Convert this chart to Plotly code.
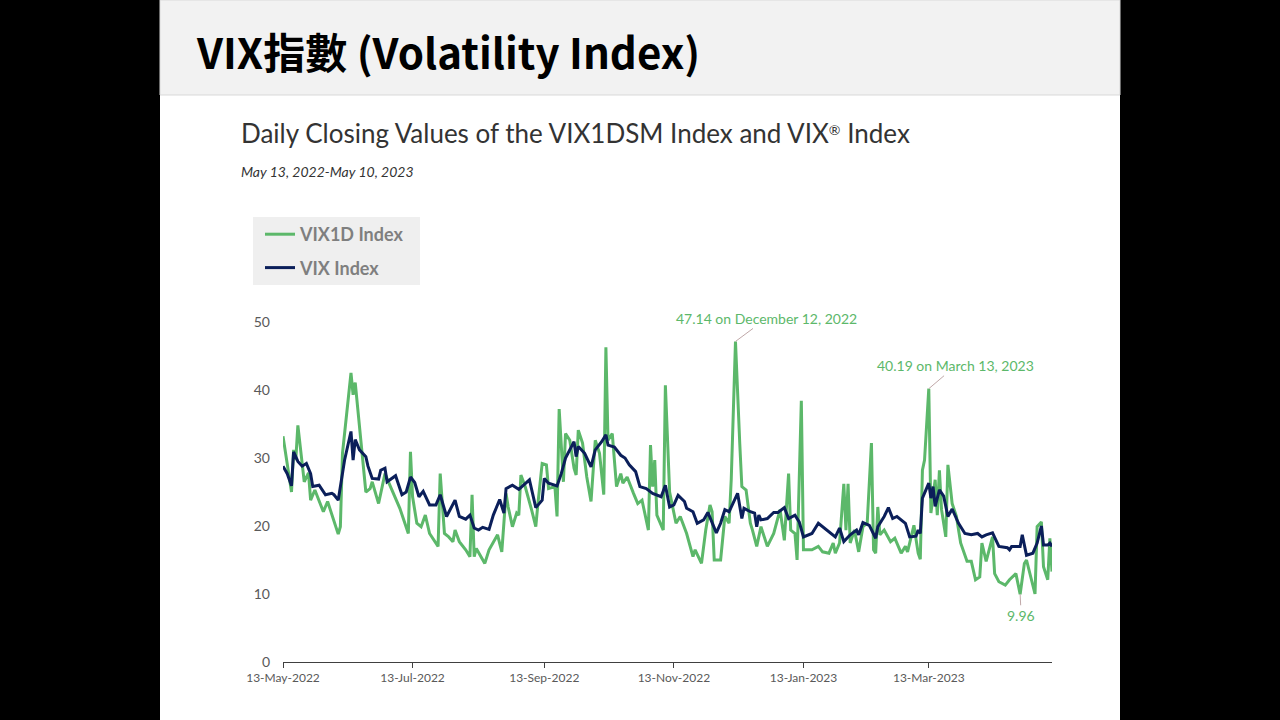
import plotly.graph_objects as go

# ---------------- data ----------------
vix1d_dates = [
    "2022-05-13", "2022-05-17", "2022-05-18", "2022-05-19", "2022-05-20", "2022-05-23", "2022-05-25", "2022-05-26", "2022-05-28",
    "2022-06-01", "2022-06-03", "2022-06-08", "2022-06-09", "2022-06-10", "2022-06-14", "2022-06-15", "2022-06-16", "2022-06-18",
    "2022-06-21", "2022-06-23", "2022-06-24", "2022-06-27", "2022-06-30",
    "2022-07-03", "2022-07-07", "2022-07-11", "2022-07-12", "2022-07-13", "2022-07-15", "2022-07-17", "2022-07-19", "2022-07-21",
    "2022-07-25", "2022-07-26", "2022-07-28", "2022-07-30",
    "2022-08-01", "2022-08-02", "2022-08-04", "2022-08-07", "2022-08-09", "2022-08-10", "2022-08-11", "2022-08-12", "2022-08-16",
    "2022-08-18", "2022-08-22", "2022-08-24", "2022-08-26", "2022-08-27", "2022-08-29", "2022-08-31",
    "2022-09-01", "2022-09-02", "2022-09-04", "2022-09-07", "2022-09-09", "2022-09-10", "2022-09-12", "2022-09-14", "2022-09-15",
    "2022-09-18", "2022-09-19", "2022-09-20", "2022-09-22", "2022-09-23", "2022-09-25", "2022-09-27", "2022-09-28", "2022-09-29",
    "2022-10-01", "2022-10-03", "2022-10-05", "2022-10-07", "2022-10-09", "2022-10-11", "2022-10-12", "2022-10-13", "2022-10-15",
    "2022-10-17", "2022-10-19", "2022-10-20", "2022-10-22", "2022-10-25", "2022-10-27", "2022-10-29",
    "2022-11-01", "2022-11-02", "2022-11-03", "2022-11-04", "2022-11-05", "2022-11-08", "2022-11-09", "2022-11-11", "2022-11-12",
    "2022-11-14", "2022-11-16", "2022-11-19", "2022-11-22", "2022-11-23", "2022-11-26", "2022-11-28", "2022-11-30",
    "2022-12-01", "2022-12-02", "2022-12-05", "2022-12-07", "2022-12-09", "2022-12-10", "2022-12-12", "2022-12-14", "2022-12-15",
    "2022-12-17", "2022-12-19", "2022-12-20", "2022-12-22", "2022-12-24", "2022-12-27", "2022-12-30",
    "2023-01-02", "2023-01-04", "2023-01-06", "2023-01-07", "2023-01-09", "2023-01-10", "2023-01-12", "2023-01-13", "2023-01-17",
    "2023-01-20", "2023-01-22", "2023-01-25", "2023-01-27", "2023-01-28", "2023-01-30",
    "2023-02-01", "2023-02-02", "2023-02-03", "2023-02-04", "2023-02-06", "2023-02-08", "2023-02-10", "2023-02-12", "2023-02-14",
    "2023-02-15", "2023-02-16", "2023-02-17", "2023-02-18", "2023-02-20", "2023-02-23", "2023-02-25", "2023-02-28",
    "2023-03-02", "2023-03-03", "2023-03-06", "2023-03-08", "2023-03-09", "2023-03-10", "2023-03-11", "2023-03-13", "2023-03-14",
    "2023-03-16", "2023-03-17", "2023-03-18", "2023-03-19", "2023-03-21", "2023-03-22", "2023-03-24", "2023-03-26", "2023-03-28",
    "2023-03-31",
    "2023-04-02", "2023-04-04", "2023-04-06", "2023-04-07", "2023-04-09", "2023-04-12", "2023-04-13", "2023-04-15", "2023-04-18",
    "2023-04-20", "2023-04-23", "2023-04-25", "2023-04-27", "2023-04-28", "2023-04-30",
    "2023-05-02", "2023-05-03", "2023-05-05", "2023-05-06", "2023-05-08", "2023-05-09", "2023-05-10",
]
vix1d_values = [
    33.2, 25.0, 31.2, 29.7, 34.8, 26.5, 27.8, 23.8, 25.3,
    22.1, 23.6, 18.8, 19.9, 30.7, 42.5, 39.3, 41.1, 34.6,
    25.0, 25.5, 26.5, 23.3, 27.7,
    25.5, 22.6, 18.9, 30.9, 24.3, 20.4, 19.9, 21.6, 18.9,
    17.0, 27.7, 18.9, 18.4,
    17.7, 19.4, 17.7, 16.5, 15.5, 24.6, 15.5, 16.7, 14.5,
    16.5, 18.7, 16.2, 24.8, 22.8, 19.9, 21.9,
    21.6, 27.5, 25.8, 22.4, 19.9, 23.3, 29.2, 29.0, 25.5,
    25.8, 21.4, 37.2, 26.5, 33.6, 32.6, 28.5, 27.5, 34.1,
    32.2, 27.2, 23.6, 32.6, 30.7, 24.6, 46.3, 32.6, 33.6,
    25.8, 27.7, 26.3, 27.2, 24.8, 23.3, 23.8,
    19.4, 31.9, 25.8, 29.7, 21.6, 19.4, 40.7, 25.0, 23.3,
    20.4, 21.4, 18.9, 15.5, 16.5, 14.5, 19.4, 23.1,
    22.1, 15.0, 15.0, 21.4, 20.4, 26.8, 47.14, 32.2, 25.8,
    25.3, 20.4, 19.4, 17.0, 19.9, 17.0, 18.9,
    22.4, 17.9, 27.7, 19.4, 18.9, 15.0, 38.4, 16.5, 16.5,
    17.0, 16.2, 16.0, 17.5, 16.0, 17.5,
    26.2, 19.4, 26.2, 17.5, 19.4, 16.2, 19.9, 20.4, 32.2,
    16.5, 16.0, 22.8, 18.7, 19.4, 17.7, 18.2, 16.0,
    17.0, 16.2, 20.1, 16.0, 15.1, 28.2, 29.7, 40.19, 21.9,
    26.8, 21.6, 28.2, 22.4, 18.4, 29.0, 23.3, 21.4, 17.5,
    14.8,
    14.8, 12.1, 12.5, 17.5, 14.8, 18.4, 13.0, 11.8, 11.3,
    12.1, 13.0, 9.96, 14.5, 15.0, 12.5,
    10.0, 19.9, 20.6, 14.0, 12.1, 18.2, 13.3,
]

vix_dates = [
    "2022-05-13", "2022-05-15", "2022-05-17", "2022-05-18", "2022-05-20", "2022-05-22", "2022-05-24", "2022-05-26", "2022-05-27",
    "2022-05-30",
    "2022-06-02", "2022-06-05", "2022-06-06", "2022-06-08", "2022-06-11", "2022-06-14", "2022-06-15", "2022-06-16", "2022-06-18",
    "2022-06-21", "2022-06-22", "2022-06-24", "2022-06-27", "2022-06-28", "2022-06-30",
    "2022-07-01", "2022-07-05", "2022-07-08", "2022-07-10", "2022-07-12", "2022-07-14", "2022-07-16", "2022-07-18", "2022-07-21",
    "2022-07-24", "2022-07-26", "2022-07-29",
    "2022-08-02", "2022-08-04", "2022-08-07", "2022-08-09", "2022-08-11", "2022-08-13", "2022-08-15", "2022-08-18", "2022-08-20",
    "2022-08-23", "2022-08-25", "2022-08-26", "2022-08-29",
    "2022-09-01", "2022-09-04", "2022-09-06", "2022-09-09", "2022-09-12", "2022-09-13", "2022-09-15", "2022-09-19", "2022-09-21",
    "2022-09-23", "2022-09-27", "2022-09-28", "2022-09-29",
    "2022-10-02", "2022-10-05", "2022-10-07", "2022-10-10", "2022-10-12", "2022-10-13", "2022-10-16", "2022-10-19", "2022-10-21",
    "2022-10-23", "2022-10-26", "2022-10-28", "2022-10-31",
    "2022-11-03", "2022-11-07", "2022-11-09", "2022-11-11", "2022-11-13", "2022-11-15", "2022-11-18", "2022-11-19", "2022-11-22",
    "2022-11-24", "2022-11-27", "2022-11-29",
    "2022-12-03", "2022-12-05", "2022-12-07", "2022-12-09", "2022-12-13", "2022-12-15", "2022-12-16", "2022-12-19", "2022-12-21",
    "2022-12-22", "2022-12-23", "2022-12-24", "2022-12-27", "2022-12-30",
    "2023-01-01", "2023-01-04", "2023-01-06", "2023-01-09", "2023-01-11", "2023-01-13", "2023-01-17", "2023-01-20", "2023-01-23",
    "2023-01-28", "2023-01-30",
    "2023-02-01", "2023-02-04", "2023-02-07", "2023-02-08", "2023-02-10", "2023-02-13", "2023-02-16", "2023-02-17", "2023-02-20",
    "2023-02-22", "2023-02-24", "2023-02-26",
    "2023-03-02", "2023-03-04", "2023-03-07", "2023-03-08", "2023-03-09", "2023-03-10", "2023-03-13", "2023-03-14", "2023-03-15",
    "2023-03-16", "2023-03-18", "2023-03-20", "2023-03-22", "2023-03-24", "2023-03-27", "2023-03-30",
    "2023-04-02", "2023-04-05", "2023-04-07", "2023-04-09", "2023-04-12", "2023-04-15", "2023-04-19", "2023-04-20", "2023-04-21",
    "2023-04-25", "2023-04-26", "2023-04-28",
    "2023-05-01", "2023-05-03", "2023-05-05", "2023-05-06", "2023-05-08", "2023-05-09", "2023-05-10",
]
vix_values = [
    28.8, 27.7, 25.9, 30.9, 29.5, 28.8, 29.2, 27.7, 25.8,
    26.0,
    24.6, 24.8, 24.6, 23.8, 29.7, 33.9, 29.7, 32.7, 31.2,
    30.2, 28.8, 27.0, 26.9, 28.2, 28.5,
    26.5, 27.4, 24.6, 25.0, 27.2, 26.4, 24.3, 25.1, 23.1,
    23.1, 24.6, 21.4,
    23.8, 21.4, 21.0, 21.6, 19.7, 19.4, 19.8, 19.5, 21.6,
    23.9, 21.9, 25.5, 26.0,
    25.4, 26.2, 26.8, 22.7, 23.8, 27.0, 26.3, 25.9, 27.7,
    30.0, 32.4, 30.2, 31.7,
    30.7, 28.7, 31.2, 32.4, 33.4, 31.9, 31.6, 30.4, 30.0,
    29.0, 28.0, 25.8, 25.5,
    24.8, 24.3, 26.0, 22.8, 23.1, 24.5, 23.6, 22.6, 22.1,
    20.4, 20.9, 22.0,
    19.0, 20.4, 22.4, 22.1, 24.8, 21.1, 22.6, 22.1, 21.9,
    19.9, 21.6, 20.9, 21.1, 22.0,
    22.0, 22.7, 21.1, 21.6, 20.6, 18.4, 18.9, 20.4, 19.7,
    18.4, 19.7,
    17.7, 18.7, 19.4, 18.7, 20.5, 20.1, 18.2, 19.9, 21.4,
    22.7, 21.1, 21.4,
    20.4, 18.4, 18.5, 19.4, 18.9, 24.1, 26.3, 24.1, 25.8,
    22.9, 25.3, 24.4, 21.4, 22.5, 20.4, 18.9,
    18.7, 18.9, 18.4, 18.7, 19.0, 17.0, 16.8, 16.5, 17.0,
    17.0, 18.7, 15.7,
    16.0, 17.5, 20.0, 17.2, 17.2, 17.5, 17.0,
]

tick_dates = ["2022-05-13", "2022-07-13", "2022-09-13", "2022-11-13", "2023-01-13", "2023-03-13"]
tick_labels = ["13-May-2022", "13-Jul-2022", "13-Sep-2022", "13-Nov-2022", "13-Jan-2023", "13-Mar-2023"]
y_ticks = [0, 10, 20, 30, 40, 50]

# ---------------- style ----------------
GREEN = "#5cb86a"
NAVY = "#0b1f5a"
GRAY_TXT = "#595959"

W, H = 1280, 720
L, R, T, B = 283, 1052, 322, 662   # plot area in pixels


def px(xp):
    return (xp - L) / (R - L)


def py(yp):
    return (B - yp) / (B - T)


fig = go.Figure()
fig.add_trace(go.Scatter(x=vix1d_dates, y=vix1d_values, mode="lines", name="VIX1D Index",
                         line=dict(color=GREEN, width=3), legendgroup="g1", hoverinfo="skip"))
fig.add_trace(go.Scatter(x=vix_dates, y=vix_values, mode="lines", name="VIX Index",
                         line=dict(color=NAVY, width=3), legendgroup="g2", hoverinfo="skip"))

shapes = [
    # white slide
    dict(type="rect", xref="paper", yref="paper", x0=px(160), x1=px(1120), y0=py(720), y1=py(0),
         fillcolor="white", line=dict(width=0), layer="below"),
    # header band
    dict(type="rect", xref="paper", yref="paper", x0=px(160), x1=px(1120), y0=py(95), y1=py(0),
         fillcolor="#f2f2f2", line=dict(color="#d9d9d9", width=1), layer="below"),
    # legend box
    dict(type="rect", xref="paper", yref="paper", x0=px(253), x1=px(420), y0=py(285), y1=py(217),
         fillcolor="#efefef", line=dict(width=0), layer="below"),
]

annotations = [
    dict(text="<b>VIX指數 (Volatility Index)</b>", xref="paper", yref="paper", x=px(194), y=py(50),
         xanchor="left", yanchor="middle", showarrow=False,
         font=dict(family="Noto Sans CJK TC", size=42, color="black")),
    dict(text="Daily Closing Values of the VIX1DSM Index and VIX<span style='font-size:20px'><sup>®</sup></span> Index",
         xref="paper", yref="paper",
         x=px(239), y=py(133), xanchor="left", yanchor="middle", showarrow=False,
         font=dict(family="Lato", size=26, color="#333333")),
    dict(text="<i>May 13, 2022-May 10, 2023</i>", xref="paper", yref="paper",
         x=px(239), y=py(171), xanchor="left", yanchor="middle", showarrow=False,
         font=dict(family="Lato", size=14, color="#333333")),
    dict(text="47.14 on December 12, 2022", x="2022-12-12", y=47.14, ax=31, ay=-23,
         showarrow=True, arrowhead=0, arrowwidth=1, arrowcolor="#c0a8a8", standoff=0,
         font=dict(family="Lato", size=14, color=GREEN)),
    dict(text="40.19 on March 13, 2023", x="2023-03-13", y=40.19, ax=27, ay=-23,
         showarrow=True, arrowhead=0, arrowwidth=1, arrowcolor="#c0a8a8", standoff=0,
         font=dict(family="Lato", size=14, color=GREEN)),
    dict(text="9.96", x="2023-04-25", y=9.96, ax=1, ay=21,
         showarrow=True, arrowhead=0, arrowwidth=1, arrowcolor="#c0a8a8", standoff=0,
         font=dict(family="Lato", size=14, color=GREEN)),
]

fig.update_layout(
    width=W, height=H, autosize=False,
    margin=dict(l=L, r=W - R, t=T, b=H - B, pad=0),
    paper_bgcolor="black", plot_bgcolor="white",
    shapes=shapes, annotations=annotations,
    showlegend=True,
    legend=dict(x=px(260), y=py(216), xanchor="left", yanchor="top", bgcolor="rgba(0,0,0,0)",
                font=dict(family="Lato", size=18, color="#7f7f7f", weight="bold"),
                tracegroupgap=7, traceorder="grouped", itemwidth=30),
    xaxis=dict(type="date", range=["2022-05-13", "2023-05-10"], tickvals=tick_dates, ticktext=tick_labels,
               showgrid=False, zeroline=False, showline=True, linecolor="#404040", linewidth=1,
               ticks="outside", ticklen=5, tickcolor="#404040",
               tickfont=dict(family="Lato", size=12, color=GRAY_TXT)),
    yaxis=dict(range=[0, 50], tickvals=y_ticks, showgrid=False, zeroline=False, showline=False,
               ticks="", ticklabelstandoff=12,
               tickfont=dict(family="Lato", size=14, color=GRAY_TXT)),
)

fig.write_html("out.html")
